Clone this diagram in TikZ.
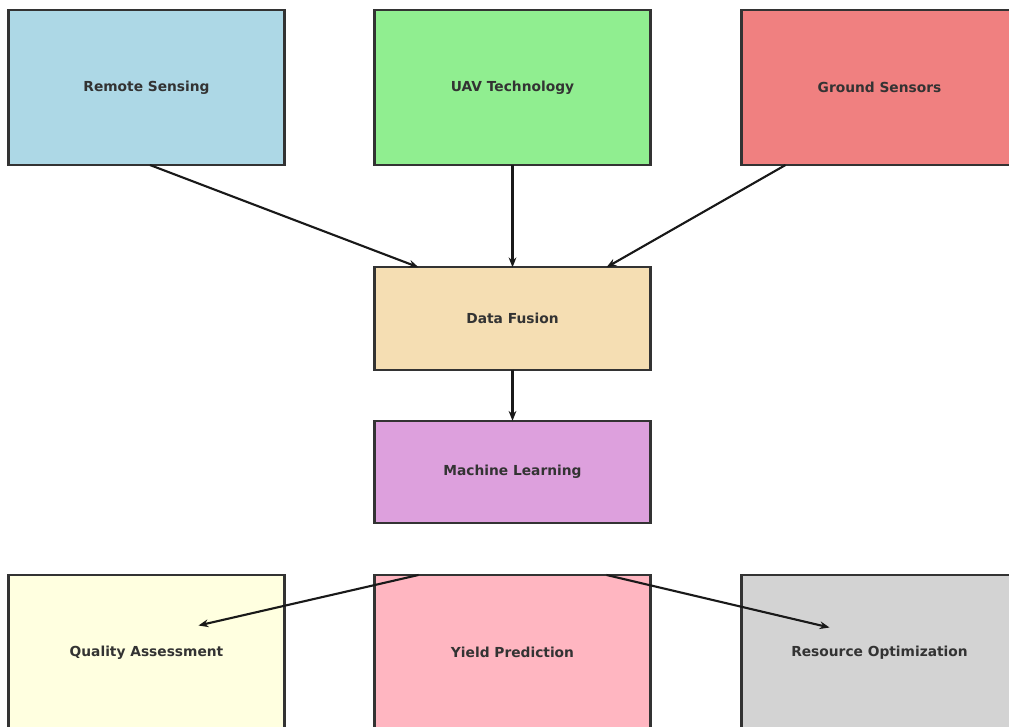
\documentclass[tikz,border=0pt]{standalone}
\usepackage{fontspec}
\setmainfont{DejaVu Sans}
\usepackage{tikz}
\usepackage{xcolor}
\usetikzlibrary{arrows.meta,calc}

\definecolor{rsblue}{HTML}{ADD8E6}
\definecolor{uavgreen}{HTML}{90EE90}
\definecolor{gscoral}{HTML}{F08080}
\definecolor{dfwheat}{HTML}{F5DEB3}
\definecolor{mlplum}{HTML}{DDA0DD}
\definecolor{qayellow}{HTML}{FFFFE0}
\definecolor{yppink}{HTML}{FFB6C1}
\definecolor{rogray}{HTML}{D3D3D3}

\tikzset{
  box/.style={draw=black!80, line width=1.5pt, inner sep=0pt, outer sep=0pt,
    minimum width=6.9cm, minimum height=3.875cm,
    font=\fontsize{9.8}{11}\selectfont\bfseries, text=black!80},
  flat/.style={box, minimum height=2.56cm},
  link/.style={-{Stealth[length=7pt,width=5.5pt]}, line width=1.5pt, black!90}
}

\begin{document}
\begin{tikzpicture}[x=0.025cm, y=-0.025cm]
\clip (0,0) rectangle (1009,726);
\fill[white] (0,0) rectangle (1009,726);

\node[box,fill=rsblue] (rs) at (146.5,87.5) {Remote Sensing};
\node[box,fill=uavgreen] (uav) at (512.5,87.5) {UAV Technology};
\node[box,fill=gscoral] (gs) at (879.5,87.5) {Ground Sensors};
\node[flat,fill=dfwheat] (df) at (512.5,318.5) {Data Fusion};
\node[flat,fill=mlplum] (ml) at (512.5,472) {Machine Learning};
\node[box,fill=qayellow] (qa) at (146.5,652.5) {Quality Assessment};
\node[box,fill=yppink] (yp) at (512.5,652.5) {Yield Prediction};
\node[box,fill=rogray] (ro) at (879.5,652.5) {Resource Optimization};

\coordinate (qaend) at ($(qa.center)+(52,-27)$);
\coordinate (roend) at ($(ro.center)+(-50,-25)$);

\draw[link] ($(rs.south)+(3.5,0)$) -- ($(df.north)+(-94,0)$);
\draw[link] (uav.south) -- (df.north);
\draw[link] ($(gs.south)+(-94,0)$) -- ($(df.north)+(94,0)$);
\draw[link] (df.south) -- (ml.north);
\draw[link] ($(yp.north)+(-94,0)$) -- (qaend);
\draw[link] ($(yp.north)+(94,0)$) -- (roend);
\end{tikzpicture}
\end{document}
